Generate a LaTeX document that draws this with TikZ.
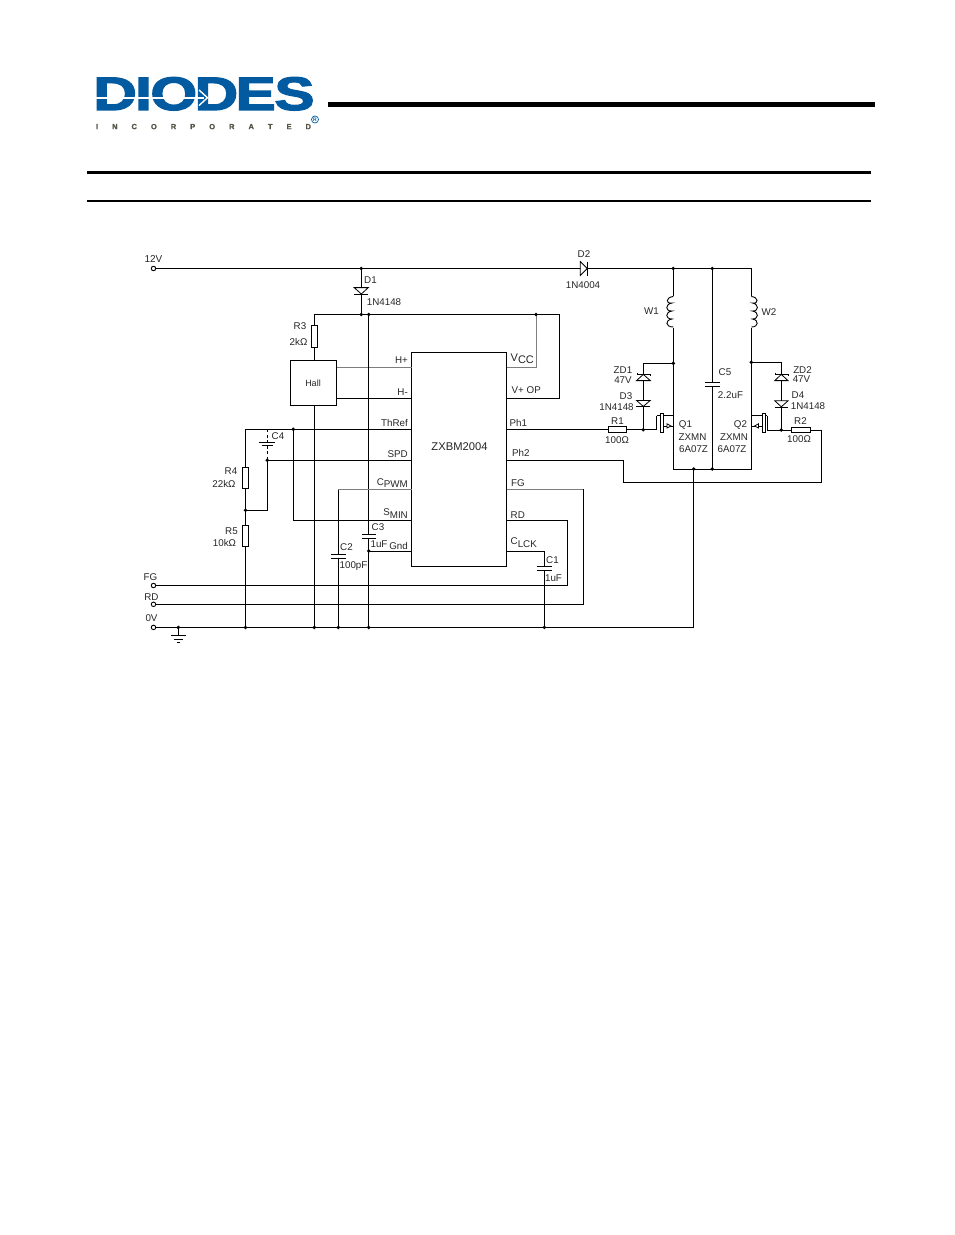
\documentclass[tikz,border=0pt]{standalone}
\usepackage{fontspec}
\setmainfont{Liberation Sans}
\newfontface\logoface{Liberation Sans Bold}[FakeBold=2.5]
\newfontface\incface{Liberation Sans Bold}[FakeBold=1.5]
\usetikzlibrary{calc}
\definecolor{logoblue}{RGB}{2,90,160}
\definecolor{logogray}{RGB}{85,85,70}
\definecolor{wiregray}{RGB}{125,125,125}
\tikzset{
  wire/.style={line width=1pt,black},
  graywire/.style={line width=1pt,wiregray},
  part/.style={draw,line width=0.9pt,fill=white,inner sep=0pt,outer sep=0pt},
  lab/.style={font=\fontsize{9.8}{10}\selectfont,inner sep=0pt,text=black!85},
  dot/.style={circle,fill=black,inner sep=0pt,minimum size=3.8pt},
  term/.style={circle,draw,line width=0.9pt,fill=white,inner sep=0pt,minimum size=4.5pt},
  plate/.style={line width=1pt},
  rulebar/.style={fill=black,draw=none}
}
\newcommand{\sbs}[1]{\raisebox{-2.5pt}{#1}}
\begin{document}
\begin{tikzpicture}[x=1pt,y=-1pt]
\useasboundingbox (0,0) rectangle (954,1235);
% header
\fill[rulebar] (328,102) rectangle (875,106.7);
\fill[rulebar] (87,170.7) rectangle (871,174);
\fill[rulebar] (87,200) rectangle (871,202);
% logo
\node[anchor=center,inner sep=0pt,text=logoblue,xscale=1.28,font=\fontsize{47}{50}\logoface] (logo) at (204,93.8) {D\kern-1.5pt I\kern-1pt O\kern-2pt D\kern-2pt E\kern-1pt S};
\fill[white] (96,96.9) rectangle (204,98.5);
\draw[white,line width=1.4pt] (199,90) -- (207.5,97.7) -- (199,105.5);
\node[anchor=center,inner sep=0pt,text width=215pt,text=logogray,font=\fontsize{7.5}{8}\incface] (inc) at (203.5,126.6) {I\hfill N\hfill C\hfill O\hfill R\hfill P\hfill O\hfill R\hfill A\hfill T\hfill E\hfill D};
\node[circle,draw=logoblue,line width=0.7pt,inner sep=0pt,minimum size=7pt,text=logoblue,font=\fontsize{5}{5}\bfseries\selectfont] (reg) at (315,119.5) {R};

% IC and Hall
\node[part,minimum width=95pt,minimum height=214.4pt,anchor=north west] (ic) at (411.7,352.3) {};
\node[font=\fontsize{11.2}{12}\selectfont,inner sep=0pt,text=black!85] (icl) at (459.5,446.5) {ZXBM2004};
\node[part,minimum width=46.4pt,minimum height=45.4pt,anchor=north west,line width=1pt] (hall) at (290.3,360.3) {};
\node[lab,font=\fontsize{9}{10}\selectfont] (halll) at (313,383) {Hall};

% terminals
\node[term] (t12) at (153.5,268.5) {};
\node[term] (tfg) at (153.5,585.5) {};
\node[term] (trd) at (153.5,604.3) {};
\node[term] (t0v) at (153.5,627.4) {};

% coordinates
\coordinate (top1) at (361.3,268.5);
\coordinate (topw1) at (673.3,268.5);
\coordinate (topc5) at (712.3,268.5);
\coordinate (topw2) at (751.3,268.5);
\coordinate (vj) at (361.3,314.5);
\coordinate (vj3) at (368.7,314.5);
\coordinate (vj4) at (536,314.5);
\coordinate (vjr) at (559.7,314.5);
\coordinate (vjl) at (314.3,314.5);
\coordinate (vop) at (559.7,398.3);
\coordinate (vcc) at (536,367.3);
\coordinate (hb) at (314.3,405.7);
\coordinate (g1) at (314.3,627.4);
\coordinate (g2) at (338.3,627.4);
\coordinate (g3) at (368.7,627.4);
\coordinate (g4) at (245.5,627.4);
\coordinate (g5) at (544.4,627.4);
\coordinate (g6) at (178.3,627.4);
\coordinate (gr) at (693.7,627.4);
\coordinate (j4) at (245.5,510.3);
\coordinate (thl) at (245.5,429.3);
\coordinate (thj) at (293.3,429.3);
\coordinate (c4t) at (267.3,429.3);
\coordinate (c4b) at (267.3,460.2);
\coordinate (smc) at (293.3,520.3);
\coordinate (j4r) at (267.3,510.3);
\coordinate (cpc) at (338.3,489.7);
\coordinate (gnd) at (368.7,551);
\coordinate (fgr) at (583.3,489.4);
\coordinate (fgb) at (583.3,604.3);
\coordinate (rdr) at (567.3,520.3);
\coordinate (rdb) at (567.3,585.5);
\coordinate (ck) at (544.4,551.3);
\coordinate (ph2a) at (623.3,460.3);
\coordinate (ph2b) at (623.3,482.3);
\coordinate (ph2c) at (821.7,482.3);
\coordinate (ph2d) at (821.7,430);
\coordinate (g1j) at (643.3,429.7);
\coordinate (zd1t) at (643.3,363.3);
\coordinate (w1j) at (673.3,363.3);
\coordinate (zd2t) at (781.3,362.3);
\coordinate (w2j) at (751.3,362.3);
\coordinate (g2j) at (781.3,430);
\coordinate (d1b) at (673.3,469);
\coordinate (d2b) at (751.3,469);
\coordinate (c5b) at (712.3,469);
\coordinate (gb) at (693.7,469);

% main wires
\draw[wire] (t12) -- (topw2) -- (d2b) -- (d1b) -- (topw1);
\draw[wire] (topc5) -- (c5b);
\draw[wire] (top1) -- (vj);
\draw[wire] (vjl) -- (vjr) -- (vop) -- (vop-|ic.east);
\draw[wire] (vjl) -- (hall.north-|vjl);
\draw[graywire] (vj4) -- (vcc) -- (vcc-|ic.east);
\draw[graywire] (ic.west|-0,367.3) -- (hall.east|-0,367.3);
\draw[wire] (ic.west|-0,398.3) -- (hall.east|-0,398.3);
\draw[wire] (vj3) -- (g3);
\draw[wire] (hb) -- (g1);
\draw[wire] (thl) -- (thl-|ic.west);
\draw[wire] (thl) -- (g4);
\draw[wire] (thj) -- (smc) -- (smc-|ic.west);
\draw[wire] (c4b) -- (c4b-|ic.west);
\draw[wire] (c4b) -- (j4r) -- (j4);
\draw[graywire] (cpc-|ic.west) -- (cpc);
\draw[wire] (cpc) -- (g2);
\draw[wire] (gnd) -- (gnd-|ic.west);
\draw[wire] (t0v) -- (gr) -- (gb);
\draw[wire] (tfg) -- (rdb) -- (rdr) -- (rdr-|ic.east);
\draw[wire] (trd) -- (fgb) -- (fgr);
\draw[graywire] (fgr) -- (fgr-|ic.east);
\draw[wire] (ck-|ic.east) -- (ck) -- (g5);
\draw[wire] (ic.east|-ph2a) -- (ph2a) -- (ph2b) -- (ph2c) -- (ph2d) -- (g2j);
\draw[wire] (ic.east|-g1j) -- (g1j);
\draw[wire] (zd1t) -- (g1j);
\draw[wire] (zd1t) -- (w1j);
\draw[wire] (zd2t) -- (w2j);
\draw[wire] (zd2t) -- (g2j);

% C4 (dashed leads)
\fill[white] (264,431) rectangle (271,459);
\draw[line width=1pt,dash pattern=on 3pt off 2.5pt] (c4t) -- (c4b);
\draw[plate] (259.3,442.3) -- (275,442.3);
\draw[plate] (262,445.3) -- (272.5,445.3);
\node[lab] (c4l) at (278,436.5) {C4};

% resistors
\node[part,minimum width=5.4pt,minimum height=22.3pt] (r3) at (314.3,336.2) {};
\node[part,minimum width=6.7pt,minimum height=21pt] (r4) at (245.5,477.8) {};
\node[part,minimum width=6.7pt,minimum height=21.4pt] (r5) at (245.5,536) {};
\node[part,minimum width=18.4pt,minimum height=5.6pt] (r1) at (617.5,429.2) {};
\node[part,minimum width=19.4pt,minimum height=5.6pt] (r2) at (801,430) {};

% caps
\foreach \nm/\x/\ya/\yb/\w in {c2/338.3/554.3/558.3/7.5, c3/368.7/534.7/538.2/7, c1/544.4/566.3/570.7/7.7, c5/712.3/382.7/386.7/7.5}{
  \fill[white] (\x-1,\ya+0.5) rectangle (\x+1,\yb-0.5);
  \draw[plate] (\x-\w,\ya) -- (\x+\w,\ya);
  \draw[plate] (\x-\w,\yb) -- (\x+\w,\yb);
}

% diodes
\draw[part,line width=0.8pt] (354.2,287.6) -- (368.3,287.6) -- (361.3,294) -- cycle;
\draw[plate] (354.2,294.2) -- (368.3,294.2);
\draw[part,line width=0.8pt] (580.3,261.5) -- (587.3,268.5) -- (580.3,275.5) -- cycle;
\draw[plate] (587.5,261.5) -- (587.5,275.5);
% ZD1, D3
\draw[part,line width=0.8pt] (636.5,380.6) -- (650.3,380.6) -- (643.3,374.4) -- cycle;
\draw[plate] (637,372.8) -- (637,374.4) -- (650,374.4) -- (650,376);
\draw[part,line width=0.8pt] (636.5,400.4) -- (650.3,400.4) -- (643.3,406.4) -- cycle;
\draw[plate] (636.3,406.6) -- (650.3,406.6);
% ZD2, D4
\draw[part,line width=0.8pt] (774.8,380.6) -- (788,380.6) -- (781.3,374.4) -- cycle;
\draw[plate] (775,372.8) -- (775,374.4) -- (788,374.4) -- (788,376);
\draw[part,line width=0.8pt] (774.8,400.8) -- (788,400.8) -- (781.3,406.8) -- cycle;
\draw[plate] (774.5,407) -- (788,407);

% windings
\fill[white] (670.5,296) rectangle (676,328);
\draw[wire,line width=0.9pt] (673.3,296.5) .. controls (666,297) and (665,304) .. (672,303) .. controls (665,304) and (665,311.5) .. (672,311) .. controls (665,312) and (665,319) .. (672,319) .. controls (665,320) and (665,327) .. (673.3,327);
\fill[white] (748,296) rectangle (754,328);
\draw[wire,line width=0.9pt] (751.3,296.5) .. controls (758.5,297) and (759,304) .. (752.5,303) .. controls (759,304) and (759,311.5) .. (752.5,311) .. controls (759,312) and (759,319) .. (752.5,319) .. controls (759,320) and (759,327) .. (751.3,327);

% MOSFET Q1
\coordinate (q1g) at (656.7,429.7);
\draw[wire] (g1j) -- (q1g) -- (656.7,415.7);
\draw[line width=0.9pt] (660.8,413.5) rectangle (663.3,432.5);
\draw[wire] (656.7,415.7) -- (660.8,415.7);
\draw[wire] (663.3,415.7) -- (673.3,415.7);
\draw[wire] (663.3,426) -- (673.3,426);
\draw[line width=0.8pt,fill=white] (667,423.8) -- (671,426) -- (667,428) -- cycle;
% MOSFET Q2
\coordinate (q2g) at (767.3,430);
\draw[wire] (g2j) -- (q2g) -- (767.3,415.7);
\draw[line width=0.9pt] (762.7,413.5) rectangle (765.2,432.5);
\draw[wire] (767.3,415.7) -- (765.2,415.7);
\draw[wire] (762.7,415.7) -- (751.3,415.7);
\draw[wire] (762.7,426) -- (751.3,426);
\draw[line width=0.8pt,fill=white] (758.5,423.8) -- (754.5,426) -- (758.5,428) -- cycle;

% dots
\foreach \p in {top1,topw1,topc5,vj,vj3,vj4,thj,c4b,j4,g1,g2,g3,g4,g5,g6,g1j,w1j,w2j,g2j,c5b,gb,gnd}{\node[dot] at (\p) {};}

% ground
\draw[wire] (g6) -- (178.3,635.4);
\draw[plate] (171,635.4) -- (186,635.4);
\draw[plate] (174.3,639) -- (182.7,639);
\draw[plate] (176.7,642.3) -- (180,642.3);

% labels
\node[lab,font=\fontsize{10}{10}\selectfont] at (153.5,259.3) {12V};
\node[lab] at (150.5,577) {FG};
\node[lab] at (151.5,597) {RD};
\node[lab] at (151.5,618) {0V};
\node[lab] at (370.5,280) {D1};
\node[lab] at (384,302.5) {1N4148};
\node[lab] at (300,326) {R3};
\node[lab] at (298.5,341.5) {2kΩ};
\node[lab] at (231,471) {R4};
\node[lab] at (224,484) {22kΩ};
\node[lab] at (231.5,531) {R5};
\node[lab] at (224.5,542.5) {10kΩ};
\node[lab,anchor=east] at (408,360.5) {H+};
\node[lab,anchor=east] at (408,392) {H-};
\node[lab,anchor=east] at (408,423) {ThRef};
\node[lab,anchor=east] at (408,454.5) {SPD};
\node[lab,anchor=east] at (408,483) {C\sbs{PWM}};
\node[lab,anchor=east] at (408,513.5) {S\sbs{MIN}};
\node[lab,anchor=east] at (408,546) {Gnd};
\node[lab] at (346.5,547) {C2};
\node[lab] at (353.5,566.5) {100pF};
\node[lab] at (378,527.5) {C3};
\node[lab] at (379,544) {1uF};
\node[lab,anchor=west,font=\fontsize{11}{11}\selectfont] at (510.5,359) {V\sbs{CC}};
\node[lab,anchor=west] at (511.5,390) {V+ OP};
\node[lab,anchor=west] at (509.5,423) {Ph1};
\node[lab,anchor=west] at (512,452.5) {Ph2};
\node[lab,anchor=west] at (511,483.5) {FG};
\node[lab,anchor=west] at (510.5,515) {RD};
\node[lab,anchor=west] at (510.5,542.5) {C\sbs{LCK}};
\node[lab] at (552.5,560.5) {C1};
\node[lab] at (553.5,578) {1uF};
\node[lab] at (584,254) {D2};
\node[lab] at (583,285.5) {1N4004};
\node[lab] at (651.5,311.5) {W1};
\node[lab] at (769,312.5) {W2};
\node[lab] at (623,370.5) {ZD1};
\node[lab] at (623,380.5) {47V};
\node[lab] at (626,396.5) {D3};
\node[lab] at (616.5,407.5) {1N4148};
\node[lab] at (617.5,421) {R1};
\node[lab] at (617,440.5) {100Ω};
\node[lab] at (725,372.5) {C5};
\node[lab] at (730.5,395.5) {2.2uF};
\node[lab] at (685.5,424.5) {Q1};
\node[lab] at (692.5,437.5) {ZXMN};
\node[lab] at (693.5,449.5) {6A07Z};
\node[lab] at (740.5,424.5) {Q2};
\node[lab] at (734,437.5) {ZXMN};
\node[lab] at (732,449.5) {6A07Z};
\node[lab] at (802.5,370) {ZD2};
\node[lab] at (801.5,379.5) {47V};
\node[lab] at (798,395.5) {D4};
\node[lab] at (808,406.5) {1N4148};
\node[lab] at (800.5,421.5) {R2};
\node[lab] at (799,439.5) {100Ω};
\end{tikzpicture}
\end{document}
